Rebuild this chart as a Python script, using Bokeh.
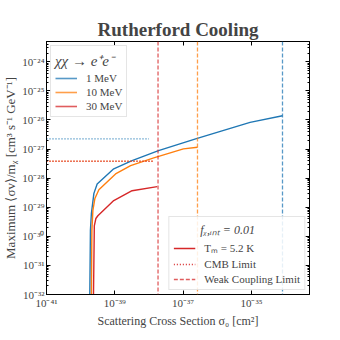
from bokeh.plotting import figure
from bokeh.models import (Span, Legend, LegendItem, LogAxis, FixedTicker, Range1d)
from bokeh.embed import file_html
from bokeh.resources import INLINE

# ---------------- data ----------------
masses = ["1 MeV", "10 MeV", "30 MeV"]
colors = ["#1f77b4", "#ff7f0e", "#d62728"]

sigma_1mev = [1.82e-40, 1.93e-40, 2.06e-40, 2.44e-40, 3.04e-40, 9.3e-40,
              3.2e-39, 1.9e-38, 2.45e-37, 9.1e-36, 8.1e-35]
sv_1mev = [1e-33, 1.6e-30, 6.0e-30, 3.0e-29, 6.3e-29, 2.1e-28,
           4.0e-28, 8.9e-28, 2.3e-27, 8.3e-27, 1.4e-26]

sigma_10mev = [2.04e-40, 2.13e-40, 2.28e-40, 2.61e-40, 3.41e-40, 1.05e-39,
               2.9e-39, 1.38e-38, 1.02e-37, 2.63e-37]
sv_10mev = [1e-33, 1.6e-30, 7.8e-30, 2.0e-29, 4.0e-29, 1.4e-28,
            2.7e-28, 5.0e-28, 1.02e-27, 1.15e-27]

sigma_30mev = [2.32e-40, 2.51e-40, 2.79e-40, 3.19e-40, 9.3e-40, 3.2e-39, 1.74e-38]
sv_30mev = [1e-33, 2.3e-30, 4.1e-30, 5.1e-30, 1.7e-29, 3.7e-29, 5.1e-29]

cmb_limit = [2.24e-27, 3.8e-28, 3.8e-28]
cmb_sigma_start = [1e-41, 1e-41, 1e-41]
cmb_sigma_end = [1.0e-38, 1.38e-38, 1.3e-38]

weak_coupling_sigma = [8.1e-35, 2.63e-37, 1.84e-38]

x_ticks = [1e-41, 1e-39, 1e-37, 1e-35]
x_tick_labels = ["10⁻⁴¹", "10⁻³⁹", "10⁻³⁷", "10⁻³⁵"]
y_ticks = [1e-32, 1e-31, 1e-30, 1e-29, 1e-28, 1e-27, 1e-26, 1e-25, 1e-24]
y_tick_labels = ["10⁻³²", "10⁻³¹", "10⁻³⁰", "10⁻²⁹", "10⁻²⁸", "10⁻²⁷",
                 "10⁻²⁶", "10⁻²⁵", "10⁻²⁴"]
y_minor = [m * 10.0 ** e for e in range(-33, -23) for m in range(2, 10)]

x_range = (1e-41, 5e-34)
y_range = (1e-32, 5e-24)

FONT = "Liberation Serif"

p = figure(frame_width=263, frame_height=253, x_axis_type="log", y_axis_type="log",
           x_range=Range1d(*x_range), y_range=Range1d(*y_range),
           output_backend="svg", toolbar_location=None,
           min_border_left=34, min_border_right=20, min_border_top=41,
           min_border_bottom=34)
p.title.text = "Rutherford Cooling"
p.title.align = "center"
p.title.text_font = FONT
p.title.text_font_size = "19px"
p.title.text_font_style = "bold"
p.title.standoff = 4
p.grid.visible = False
p.outline_line_color = "black"
p.outline_line_width = 1

curves = [(sigma_1mev, sv_1mev), (sigma_10mev, sv_10mev), (sigma_30mev, sv_30mev)]
for (xs, ys), c in zip(curves, colors):
    p.line(xs, ys, line_color=c, line_width=1.4)

for i, c in enumerate(colors):
    p.line([cmb_sigma_start[i], cmb_sigma_end[i]], [cmb_limit[i], cmb_limit[i]],
           line_color=c, line_width=1.4, line_dash="1 2")
    p.add_layout(Span(location=weak_coupling_sigma[i], dimension="height",
                      line_color=c, line_alpha=0.75, line_width=1.3, line_dash="4 2"))

# legend renderers (drawn off-range so they don't show)
off_x = [1e-50, 2e-50]
off_y = [1e-40, 1e-40]
mass_r = [p.line(off_x, off_y, line_color=c, line_width=1.6, line_alpha=0.75)
          for c in colors]
tm_r = p.line(off_x, off_y, line_color="#d62728", line_width=1.4)
cmb_r = p.line(off_x, off_y, line_color="#d62728", line_width=1.4, line_dash="1 2")
wc_r = p.line(off_x, off_y, line_color="#d62728", line_width=1.4,
              line_alpha=0.75, line_dash="4 2")

def style_legend(lg, spacing):
    lg.label_text_font = FONT
    lg.label_text_font_size = "11px"
    lg.title_text_font = FONT
    lg.title_text_font_style = "italic"
    lg.border_line_color = "#cccccc"
    lg.border_line_width = 1
    lg.background_fill_alpha = 0.85
    lg.padding = 4
    lg.spacing = spacing
    lg.label_height = 12
    lg.glyph_height = 12
    lg.glyph_width = 22
    lg.label_standoff = 9
    lg.title_standoff = 2
    lg.margin = 4

leg1 = Legend(items=[LegendItem(label=m, renderers=[r]) for m, r in zip(masses, mass_r)],
              title="χχ → e⁺e⁻", location="top_left")
style_legend(leg1, 2)
leg1.title_text_font_size = "15px"
leg2 = Legend(items=[LegendItem(label="Tₘ = 5.2 K", renderers=[tm_r]),
                     LegendItem(label="CMB Limit", renderers=[cmb_r]),
                     LegendItem(label="Weak Coupling Limit", renderers=[wc_r])],
              title="\u00a0" * 9 + "fᵪ,ᵢₙₜ = 0.01", location="bottom_right")
style_legend(leg2, 3)
leg2.title_text_font_size = "12px"
p.add_layout(leg1)
p.add_layout(leg2)

# axes
def style_axis(ax, labels):
    ax.axis_line_color = "black"
    ax.major_tick_in = 4
    ax.major_tick_out = 0
    ax.minor_tick_in = 2
    ax.minor_tick_out = 0
    ax.major_tick_line_color = "black"
    ax.minor_tick_line_color = "black"
    ax.major_label_text_font = FONT
    ax.major_label_text_font_size = "11px"
    ax.major_label_standoff = 2
    ax.axis_label_text_font = FONT
    ax.axis_label_text_font_size = "12px"
    ax.axis_label_text_font_style = "normal"
    ax.axis_label_standoff = 2
    if not labels:
        ax.major_label_text_font_size = "1px"
        ax.major_label_text_alpha = 0
        ax.major_label_standoff = 0

p.xaxis.ticker = FixedTicker(ticks=x_ticks, minor_ticks=[])
p.xaxis.major_label_overrides = {t: l for t, l in zip(x_ticks, x_tick_labels)}
p.yaxis.ticker = FixedTicker(ticks=y_ticks, minor_ticks=y_minor)
p.yaxis.major_label_overrides = {t: l for t, l in zip(y_ticks, y_tick_labels)}
p.xaxis.axis_label = "Scattering Cross Section σ₀ [cm²]"
p.yaxis.axis_label = "Maximum ⟨σv⟩/mᵪ [cm³ s⁻¹ GeV⁻¹]"
style_axis(p.xaxis[0], True)
style_axis(p.yaxis[0], True)
p.yaxis.axis_label_text_font_size = "13px"
p.yaxis.axis_label_standoff = 1

top_ax = LogAxis(ticker=FixedTicker(ticks=x_ticks, minor_ticks=[]))
right_ax = LogAxis(ticker=FixedTicker(ticks=y_ticks, minor_ticks=y_minor))
style_axis(top_ax, False)
style_axis(right_ax, False)
p.add_layout(top_ax, "above")
p.add_layout(right_ax, "right")

open("out.html", "w").write(file_html(p, INLINE))
